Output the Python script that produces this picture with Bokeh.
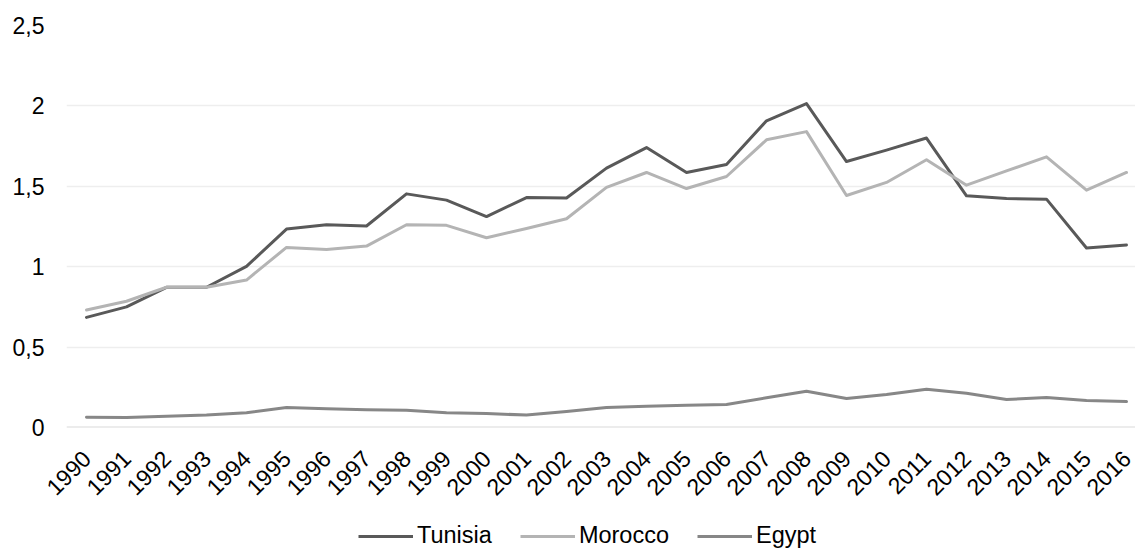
from bokeh.plotting import figure
from bokeh.layouts import column
from bokeh.models import Range1d, FixedTicker, CustomJSTickFormatter, Span, Legend, LegendItem, ColumnDataSource
from bokeh.embed import file_html
from bokeh.resources import INLINE
import math

years = list(range(1990, 2017))
tunisia = [0.685, 0.75, 0.872, 0.872, 1.002, 1.234, 1.261, 1.253, 1.453, 1.414,
           1.312, 1.43, 1.427, 1.613, 1.741, 1.586, 1.635, 1.907, 2.014, 1.654,
           1.725, 1.80, 1.441, 1.424, 1.42, 1.116, 1.135]
morocco = [0.731, 0.785, 0.872, 0.872, 0.917, 1.12, 1.107, 1.128, 1.261, 1.257,
           1.18, 1.238, 1.298, 1.493, 1.586, 1.486, 1.561, 1.789, 1.84, 1.443,
           1.524, 1.665, 1.507, 1.596, 1.683, 1.476, 1.586]
egypt = [0.064, 0.062, 0.07, 0.078, 0.092, 0.124, 0.117, 0.111, 0.108, 0.091,
         0.087, 0.077, 0.1, 0.124, 0.132, 0.139, 0.143, 0.185, 0.226, 0.18,
         0.205, 0.238, 0.213, 0.174, 0.186, 0.168, 0.161]
y_ticks = [0, 0.5, 1, 1.5, 2, 2.5]
series_names = ["Tunisia", "Morocco", "Egypt"]
series_colors = ["#595959", "#b4b4b4", "#878787"]

FONT = "Liberation Sans"

src = ColumnDataSource(dict(year=years, Tunisia=tunisia, Morocco=morocco, Egypt=egypt))

# ---------------- main chart ----------------
p = figure(width=1135, height=505,
           x_range=Range1d(1989.5, 2016.225), y_range=Range1d(0, 2.5),
           min_border_left=66, min_border_right=0, min_border_top=25, min_border_bottom=78,
           output_backend="svg", toolbar_location=None)
p.outline_line_color = None
p.background_fill_color = "white"
p.border_fill_color = "white"

for name, col in zip(series_names, series_colors):
    p.line("year", name, source=src, line_color=col, line_width=3,
           line_join="round", line_cap="round")

p.xgrid.visible = False
p.ygrid.grid_line_color = "#eeeeee"
p.ygrid.grid_line_width = 1.3
p.ygrid.ticker = FixedTicker(ticks=y_ticks)
p.add_layout(Span(location=0, dimension="width", line_color="#d9d9d9", line_width=2, level="underlay"))

ya = p.yaxis[0]
ya.ticker = FixedTicker(ticks=y_ticks)
ya.formatter = CustomJSTickFormatter(code="return tick.toString().replace('.', ',');")
ya.axis_line_color = None
ya.major_tick_line_color = None
ya.minor_tick_line_color = None
ya.major_tick_out = 0
ya.major_tick_in = 0
ya.major_label_standoff = 22
ya.major_label_text_font = FONT
ya.major_label_text_font_size = "23px"
ya.major_label_text_color = "#000000"

xa = p.xaxis[0]
xa.ticker = FixedTicker(ticks=years)
xa.formatter = CustomJSTickFormatter(code="return tick.toFixed(0);")
xa.axis_line_color = None
xa.major_tick_line_color = None
xa.minor_tick_line_color = None
xa.major_tick_out = 0
xa.major_tick_in = 0
xa.major_label_orientation = math.pi / 4
xa.major_label_standoff = 27
xa.major_label_text_font = FONT
xa.major_label_text_font_size = "23px"
xa.major_label_text_color = "#000000"

# ---------------- legend strip ----------------
pl = figure(width=1135, height=43, x_range=Range1d(0, 1), y_range=Range1d(0, 1),
            min_border=0, x_axis_location=None, y_axis_location=None,
            output_backend="svg", toolbar_location=None)
pl.outline_line_color = None
pl.grid.visible = False
leg_renderers = []
for name, col in zip(series_names, series_colors):
    # same series; they fall outside this strip's ranges, only the legend samples show
    r = pl.line("year", name, source=src, line_color=col, line_width=3)
    leg_renderers.append(r)

legend = Legend(items=[LegendItem(label=n, renderers=[r]) for n, r in zip(series_names, leg_renderers)],
                orientation="horizontal", location=(292, -1),
                glyph_width=55, glyph_height=20, label_standoff=4, spacing=28,
                padding=0, margin=0, label_text_font=FONT, label_text_font_size="23.5px",
                label_text_color="#000000", background_fill_alpha=0, border_line_color=None)
pl.add_layout(legend, "center")

layout = column(p, pl, spacing=0)
open("out.html", "w").write(file_html(layout, INLINE))
